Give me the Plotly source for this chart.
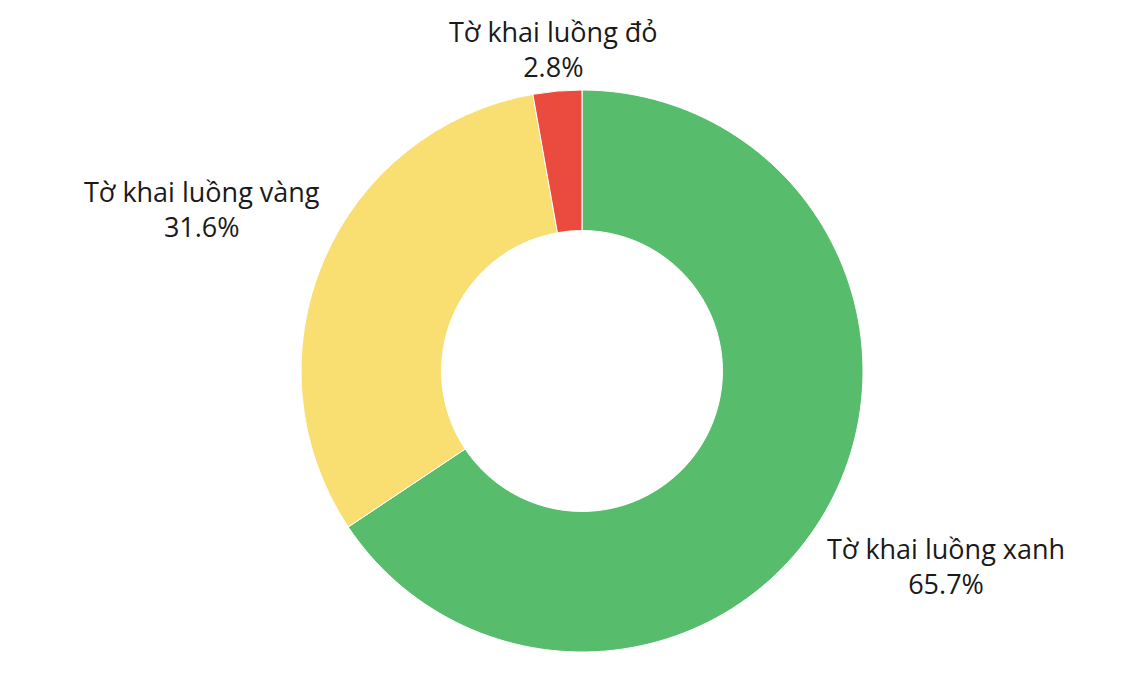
import math
import plotly.graph_objects as go

# =====================================================
# DATA
# =====================================================
labels = ["Tờ khai luồng xanh", "Tờ khai luồng vàng", "Tờ khai luồng đỏ"]
values = [65.7, 31.6, 2.8]
colors = ["#58BC6D", "#F9DE72", "#EB4A3E"]

# =====================================================
# LAYOUT / STYLE
# =====================================================
W, H = 1134, 682
MARGIN = dict(l=14, r=0, t=82, b=38)
LABEL_DIST = [1.47, 1.47, 1.15]   # label centre distance, in pie radii
FONT = dict(family="Open Sans", size=27, color="#1a1a1a")

plot_w = W - MARGIN["l"] - MARGIN["r"]
plot_h = H - MARGIN["t"] - MARGIN["b"]
radius = min(plot_w, plot_h) / 2

# =====================================================
# CHART
# =====================================================
fig = go.Figure()

fig.add_trace(go.Pie(
    labels=labels,
    values=values,
    hole=0.5,
    sort=False,
    direction="clockwise",
    rotation=0,
    marker=dict(colors=colors, line=dict(color="white", width=1)),
    textinfo="none",
    hoverinfo="label+value",
    showlegend=False,
))

# outside labels, placed along each slice's mid angle
total = sum(values)
cum = 0
for lab, v, k in zip(labels, values, LABEL_DIST):
    theta = 2 * math.pi * (cum + v / 2) / total
    cum += v
    d = k * radius
    fig.add_annotation(
        xref="paper", yref="paper",
        x=0.5 + d * math.sin(theta) / plot_w,
        y=0.5 + d * math.cos(theta) / plot_h,
        xanchor="center", yanchor="middle",
        text=f"{lab}<br>{v:.1f}%",
        showarrow=False,
        align="center",
        font=FONT,
    )

fig.update_layout(
    width=W,
    height=H,
    margin=MARGIN,
    paper_bgcolor="white",
    plot_bgcolor="white",
)

fig.write_html("out.html")
